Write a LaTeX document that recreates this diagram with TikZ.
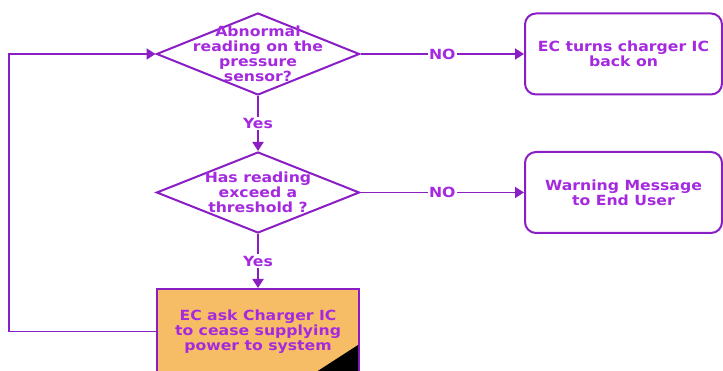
\documentclass[tikz,border=0pt]{standalone}
\usepackage{fontspec}
\newfontfamily\lblfont[FakeStretch=1.12]{DejaVu Sans}
\usetikzlibrary{shapes.geometric,arrows.meta}
\definecolor{lineP}{HTML}{8A1DC4}
\definecolor{textP}{HTML}{A52ADF}
\definecolor{orangeF}{HTML}{F7BD66}
\tikzset{
  txt/.style={text=textP,font=\lblfont\bfseries\fontsize{14}{15}\selectfont,align=center,inner sep=0pt},
  dia/.style={diamond,draw=lineP,line width=2pt,fill=white,minimum width=203pt,minimum height=82pt,inner sep=0pt},
  rbox/.style={draw=lineP,line width=2pt,rounded corners=11pt,fill=white,minimum width=197pt,minimum height=81pt,inner sep=0pt,txt},
  pbox/.style={draw=lineP,line width=2pt,fill=orangeF,minimum width=202pt,minimum height=85pt,inner sep=0pt,txt},
  conn/.style={draw=lineP,line width=1.8pt,-{Triangle[length=9pt,width=11pt]}},
  lab/.style={txt,fill=white,inner sep=1.5pt}
}
\begin{document}
\begin{tikzpicture}[x=1pt,y=-1pt]
\clip (0,0) rectangle (723,371);
\useasboundingbox (0,0) rectangle (723,371);
\node[dia,label={[txt]center:{Abnormal\\reading on the\\pressure\\sensor?}}] (d1) at (258,54) {};
\node[dia,minimum height=81pt,label={[txt]center:{Has reading\\exceed a\\threshold ?}}] (d2) at (258,192.5) {};
\node[pbox] (r) at (258,331.5) {EC ask Charger IC\\to cease supplying\\power to system};
\fill[black] (310,376) -- (358,345) -- (358,376) -- cycle;
\node[rbox] (b1) at (623.5,54) {EC turns charger IC\\back on};
\node[rbox] (b2) at (623.5,192.5) {Warning Message\\to End User};
\coordinate (lp) at (9,0);
\draw[conn] (d1.east) -- node[lab]{NO} (b1.west);
\draw[conn] (d1.south) -- node[lab]{Yes} (d2.north);
\draw[conn] (d2.east) -- node[lab]{NO} (b2.west);
\draw[conn] (d2.south) -- node[lab]{Yes} (r.north);
\draw[conn] (r.west) -- (r.west -| lp) -- (d1.west -| lp) -- (d1.west);
\end{tikzpicture}
\end{document}
